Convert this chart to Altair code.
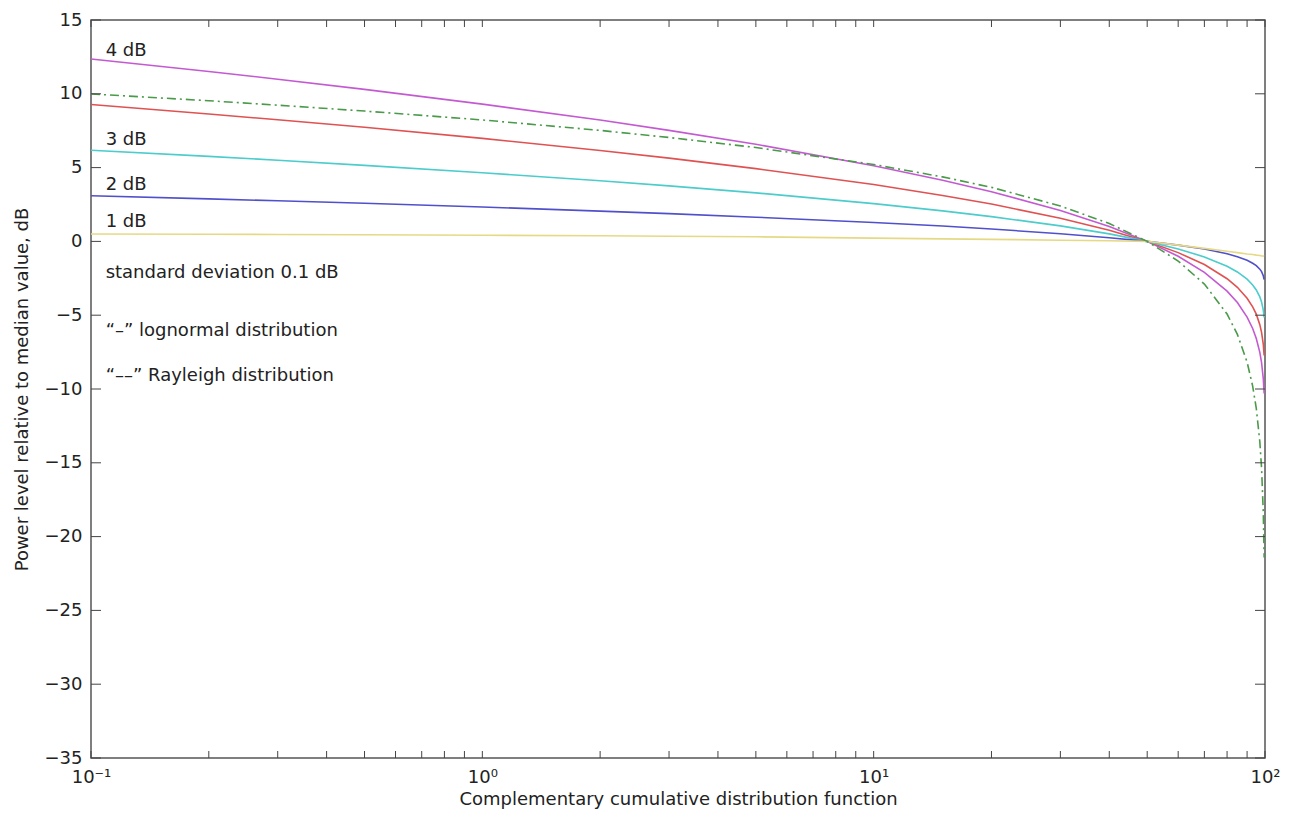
import altair as alt
import pandas as pd

# ---- data ----
ccdf = [0.1, 0.2, 0.3, 0.5, 1, 2, 3, 5, 10, 15, 20, 30, 40, 50, 60, 70, 80, 85, 90, 93, 95, 97, 98, 99, 99.5]

sd4 = [12.36, 11.51, 10.99, 10.30, 9.30, 8.22, 7.52, 6.58, 5.13, 4.14, 3.37, 2.10, 1.01, 0, -1.01, -2.10, -3.37, -4.14, -5.13, -5.90, -6.58, -7.52, -8.22, -9.30, -10.30]
sd3 = [9.27, 8.63, 8.24, 7.73, 6.98, 6.16, 5.64, 4.93, 3.85, 3.11, 2.53, 1.57, 0.76, 0, -0.76, -1.57, -2.53, -3.11, -3.85, -4.43, -4.93, -5.64, -6.16, -6.98, -7.73]
sd2 = [6.18, 5.76, 5.50, 5.15, 4.65, 4.11, 3.76, 3.29, 2.56, 2.07, 1.68, 1.05, 0.51, 0, -0.51, -1.05, -1.68, -2.07, -2.56, -2.95, -3.29, -3.76, -4.11, -4.65, -5.15]
sd1 = [3.09, 2.88, 2.75, 2.58, 2.33, 2.05, 1.88, 1.64, 1.28, 1.04, 0.84, 0.52, 0.25, 0, -0.25, -0.52, -0.84, -1.04, -1.28, -1.48, -1.64, -1.88, -2.05, -2.33, -2.58]
sd01 = [0.50, 0.48, 0.47, 0.45, 0.42, 0.38, 0.35, 0.31, 0.22, 0.17, 0.14, 0.08, 0.04, 0, -0.25, -0.47, -0.67, -0.76, -0.85, -0.89, -0.93, -0.96, -0.98, -0.99, -1.00]
rayleigh = [9.99, 9.53, 9.23, 8.83, 8.23, 7.52, 7.04, 6.36, 5.21, 4.37, 3.66, 2.40, 1.21, 0, -1.33, -2.89, -4.92, -6.30, -8.18, -9.80, -11.31, -13.57, -15.35, -18.39, -21.41]

series_names = ["4 dB", "3 dB", "2 dB", "1 dB", "0.1 dB"]
series_values = [sd4, sd3, sd2, sd1, sd01]
series_colors = ["#c45ad2", "#e05252", "#4ccccc", "#5050cc", "#e6d985"]
rayleigh_color = "#4a9a4a"

x_minor_ticks = [0.1, 0.2, 0.3, 0.4, 0.5, 0.6, 0.7, 0.8, 0.9,
                 1, 2, 3, 4, 5, 6, 7, 8, 9,
                 10, 20, 30, 40, 50, 60, 70, 80, 90, 100]
x_label_ticks = [0.1, 1, 10, 100]
y_ticks = [-35, -30, -25, -20, -15, -10, -5, 0, 5, 10, 15]

note_texts = ["4 dB", "3 dB", "2 dB", "1 dB", "standard deviation 0.1 dB",
              "\u201c\u2013\u201d lognormal distribution", "\u201c\u2013\u2013\u201d Rayleigh distribution"]
note_x = [0.109, 0.109, 0.109, 0.109, 0.109, 0.109, 0.109]
note_y = [12.9, 6.85, 3.83, 1.32, -2.11, -6.08, -9.1]

# ---- tables ----
rows = []
for name, vals in zip(series_names, series_values):
    for xv, yv in zip(ccdf, vals):
        rows.append({"series": name, "x": xv, "y": yv})
logn = pd.DataFrame(rows)
ray = pd.DataFrame({"x": ccdf, "y": rayleigh})
notes = pd.DataFrame({"text": note_texts, "x": note_x, "y": note_y})
xt = pd.DataFrame({"x": x_minor_ticks})
yt = pd.DataFrame({"y": y_ticks})

W, H = 1174, 738
FONT = "DejaVu Sans"
xscale = alt.Scale(type="log", domain=[0.1, 100])
yscale = alt.Scale(domain=[-35, 15])

XT = "Complementary cumulative distribution function"
YT = "Power level relative to median value, dB"

x_axis = alt.Axis(values=x_label_ticks, ticks=False, domain=False, grid=False,
                  labelExpr="datum.value < 0.5 ? '10\u207b\u00b9' : datum.value < 5 ? '10\u2070' : datum.value < 50 ? '10\u00b9' : '10\u00b2'",
                  labelFont=FONT, labelFontSize=18, labelColor="#222", labelPadding=10,
                  labelFlush=False, labelOverlap=False,
                  titleFont=FONT, titleFontSize=18, titleFontWeight="normal", titleColor="#222",
                  titlePadding=4)
y_axis = alt.Axis(values=y_ticks, ticks=False, domain=False, grid=False,
                  labelFont=FONT, labelFontSize=18, labelColor="#222", labelPadding=9,
                  labelFlush=False, labelOverlap=False,
                  titleFont=FONT, titleFontSize=18, titleFontWeight="normal", titleColor="#222",
                  titlePadding=13)


def X(field="x"):
    return alt.X(f"{field}:Q", scale=xscale, axis=x_axis, title=XT)


def Y(field="y"):
    return alt.Y(f"{field}:Q", scale=yscale, axis=y_axis, title=YT)


lines = alt.Chart(logn).mark_line(strokeWidth=1.6).encode(
    x=X(), y=Y(),
    color=alt.Color("series:N", scale=alt.Scale(domain=series_names, range=series_colors), legend=None),
)

ray_line = alt.Chart(ray).mark_line(strokeWidth=1.6, color=rayleigh_color, strokeDash=[9, 4, 2, 4]).encode(
    x=X(), y=Y(),
)

texts = alt.Chart(notes).mark_text(align="left", baseline="middle", font=FONT, fontSize=18, color="#222").encode(
    x=X(), y=Y(), text="text:N",
)

tick_color = "#444"
bottom_ticks = alt.Chart(xt).mark_rule(color=tick_color, strokeWidth=1).encode(
    x=X(), y=alt.value(H), y2=alt.value(H - 7))
top_ticks = alt.Chart(xt).mark_rule(color=tick_color, strokeWidth=1).encode(
    x=X(), y=alt.value(0), y2=alt.value(7))
left_ticks = alt.Chart(yt).mark_rule(color=tick_color, strokeWidth=1).encode(
    y=Y(), x=alt.value(0), x2=alt.value(10))
right_ticks = alt.Chart(yt).mark_rule(color=tick_color, strokeWidth=1).encode(
    y=Y(), x=alt.value(W), x2=alt.value(W - 10))

chart = alt.layer(lines, ray_line, texts, bottom_ticks, top_ticks, left_ticks, right_ticks).properties(
    width=W, height=H,
    autosize=alt.AutoSizeParams(type="none"),
    padding={"left": 83, "top": 12, "right": 18, "bottom": 56},
).configure(
    background="white",
    view=alt.ViewConfig(stroke="#555555", strokeWidth=1.5, strokeOpacity=1),
)

chart.save("out.html", embed_options={"renderer": "svg", "actions": False})
